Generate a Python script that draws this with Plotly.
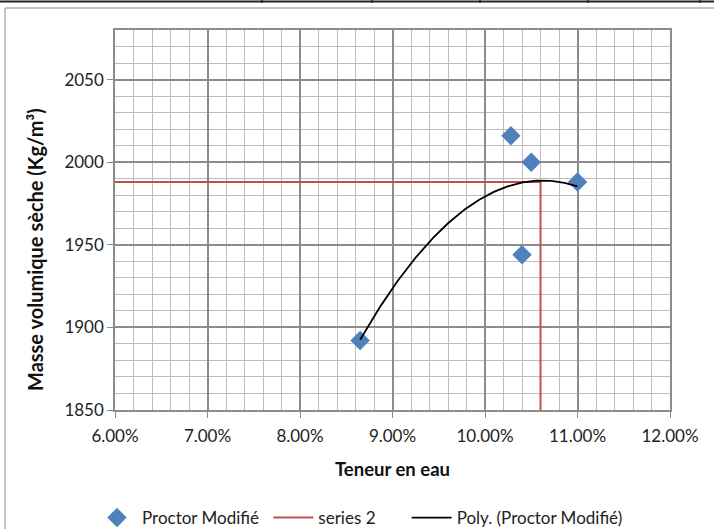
import numpy as np
import plotly.graph_objects as go

# Proctor test measurements: water content (fraction) and dry density (kg/m3)
teneur_eau = [0.0865, 0.1028, 0.1050, 0.1040, 0.1100]
masse_vol = [1892, 2016, 2000, 1944, 1988]

# Optimum read from the trendline: optimum water content and max dry density
w_opt = 0.106
rho_max = 1988
series2_x = [0.06, w_opt, w_opt]
series2_y = [rho_max, rho_max, 1850]

x_ticks = [0.06, 0.07, 0.08, 0.09, 0.10, 0.11, 0.12]
y_ticks = [1850, 1900, 1950, 2000, 2050]

# Second-order polynomial trendline over the measured points
coef = np.polyfit(teneur_eau, masse_vol, 2)
xs = np.linspace(min(teneur_eau), max(teneur_eau), 200)
ys = np.polyval(coef, xs)

W, H = 714, 529
L, R, T, B = 115, 670, 30, 410

def px(xp):
    return (xp - L) / (R - L)

def py(yp):
    return (B - yp) / (B - T)

FONT = "Lato"
NB = "\u00a0"
fig = go.Figure()
fig.add_trace(go.Scatter(
    x=teneur_eau, y=masse_vol, mode="markers", name="Proctor Modifié" + NB,
    marker=dict(symbol="diamond", size=15, color="#4F81BD"),
))
fig.add_trace(go.Scatter(
    x=series2_x, y=series2_y, mode="lines", name="series 2" + NB * 6,
    line=dict(color="#C0504D", width=2),
))
fig.add_trace(go.Scatter(
    x=xs, y=ys, mode="lines", name="Poly. (Proctor Modifié)",
    line=dict(color="#000000", width=1.8),
))

grid_major = "#8c8c8c"
grid_minor = "#bdbdbd"

fig.update_xaxes(
    range=[0.06, 0.12], tickvals=x_ticks, tickformat=".2%",
    showgrid=True, gridcolor=grid_major, gridwidth=1.5,
    minor=dict(dtick=0.002, tick0=0.06, showgrid=True, gridcolor=grid_minor, gridwidth=1),
    showline=True, linecolor=grid_major, linewidth=1.5, mirror=True,
    ticks="outside", ticklen=6, tickcolor=grid_major, ticklabelstandoff=4,
    tickfont=dict(family=FONT, size=17, color="#222"),
    title=dict(text="<b>Teneur en eau</b>", font=dict(family=FONT, size=18.5, color="#111"), standoff=18),
    zeroline=False,
)
fig.update_yaxes(
    range=[1850, 2080], tickvals=y_ticks,
    showgrid=True, gridcolor=grid_major, gridwidth=1.5,
    minor=dict(dtick=10, tick0=1850, showgrid=True, gridcolor=grid_minor, gridwidth=1),
    showline=True, linecolor=grid_major, linewidth=1.5, mirror=True,
    ticks="outside", ticklen=6, tickcolor=grid_major,
    tickfont=dict(family=FONT, size=17, color="#222"),
    zeroline=False,
)

shapes = [
    # chart frame
    dict(type="line", xref="paper", yref="paper", x0=px(5), x1=px(714), y0=py(8), y1=py(8),
         line=dict(color="#b0b0b0", width=1.5)),
    dict(type="line", xref="paper", yref="paper", x0=px(5), x1=px(5), y0=py(8), y1=py(529),
         line=dict(color="#b0b0b0", width=1.5)),
    # table rule above the chart
    dict(type="line", xref="paper", yref="paper", x0=px(0), x1=px(714), y0=py(1.5), y1=py(1.5),
         line=dict(color="#222", width=2)),
]
for xc in [262, 372, 480, 588, 700]:
    shapes.append(dict(type="line", xref="paper", yref="paper", x0=px(xc), x1=px(xc),
                       y0=py(0), y1=py(3), line=dict(color="#222", width=1.5)))

annotations = [
    dict(text="<b>Masse volumique sèche (Kg/m³)</b>", textangle=-90,
         xref="paper", yref="paper", x=px(35), y=py(250), xanchor="center", yanchor="middle",
         showarrow=False, font=dict(family=FONT, size=20, color="#111")),
]

fig.update_layout(
    width=W, height=H,
    margin=dict(l=L, r=W - R, t=T, b=H - B, autoexpand=False),
    paper_bgcolor="white", plot_bgcolor="white",
    font=dict(family=FONT),
    shapes=shapes,
    annotations=annotations,
    showlegend=True,
    legend=dict(orientation="h", x=px(92), xanchor="left", y=py(518), yanchor="middle",
                font=dict(family=FONT, size=17, color="#222"), itemwidth=40,
                bgcolor="rgba(0,0,0,0)"),
)

fig.write_html("out.html")
